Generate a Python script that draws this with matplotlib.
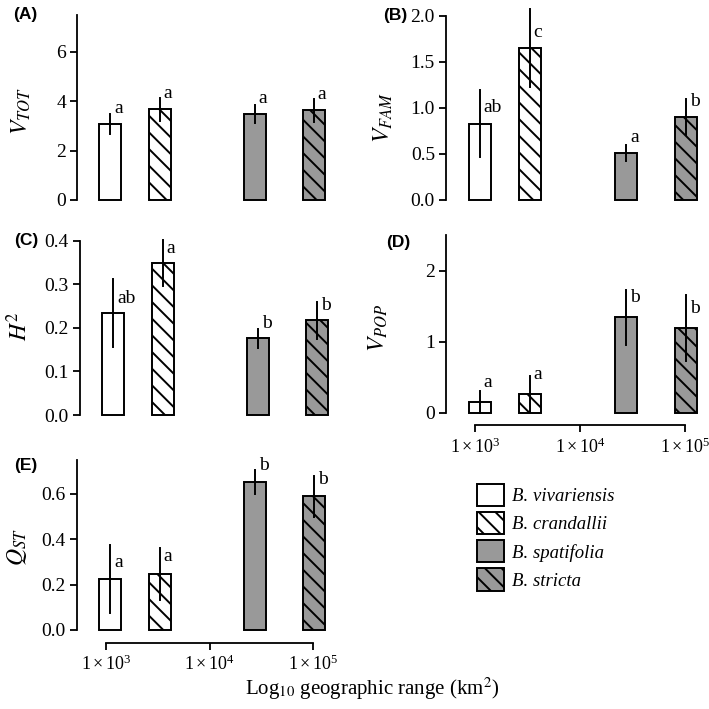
import numpy as np
import matplotlib
matplotlib.use('Agg')
import matplotlib.pyplot as plt
from matplotlib.patches import Patch

plt.rcParams['font.family'] = ['Liberation Serif', 'DejaVu Serif']
plt.rcParams['mathtext.fontset'] = 'stix'
plt.rcParams['hatch.linewidth'] = 1.4

# data
species = ['B. vivariensis', 'B. crandallii', 'B. spatifolia', 'B. stricta']
range_km2 = [1100, 3300, 27500, 102000]

vtot = [3.08, 3.67, 3.49, 3.63]
vtot_se = [0.40, 0.47, 0.37, 0.48]
vtot_letters = ['a', 'a', 'a', 'a']

vfam = [0.83, 1.65, 0.51, 0.90]
vfam_se = [0.36, 0.42, 0.085, 0.20]
vfam_letters = ['ab', 'c', 'a', 'b']

h2 = [0.233, 0.348, 0.176, 0.217]
h2_se = [0.078, 0.053, 0.022, 0.042]
h2_letters = ['ab', 'a', 'b', 'b']

vpop = [0.148, 0.266, 1.34, 1.19]
vpop_se = [0.16, 0.25, 0.39, 0.46]
vpop_letters = ['a', 'a', 'b', 'b']

qst = [0.223, 0.248, 0.652, 0.589]
qst_se = [0.15, 0.115, 0.054, 0.09]
qst_letters = ['a', 'a', 'b', 'b']

xtick_vals = [3, 4, 5]
xtick_labels = [r'$\mathregular{1\times10^3}$', r'$\mathregular{1\times10^4}$', r'$\mathregular{1\times10^5}$']

colors = ['white', 'white', '#999999', '#999999']
hatches = ['', '\\\\', '', '\\\\']

FS = 14
W, H = 709, 709


def ax_at(left_px, zero_px, top_px, width_px):
    return fig.add_axes([left_px / W, (H - zero_px) / H, width_px / W, (zero_px - top_px) / H])


def panel(ax, vals, se, letters, ymax, yticks, ylabel, tag, lab_xy, tag_xy, let_frac, xaxis=False):
    x = np.log10(range_km2)
    for xi, v, s, c, h, l in zip(x, vals, se, colors, hatches, letters):
        ax.bar(xi, v, width=0.21, color=c, hatch=h, edgecolor='black', linewidth=1.4, clip_on=False)
        ax.plot([xi, xi], [max(v - s, 0), v + s], color='black', lw=1.4, clip_on=False)
        ax.text(xi + 0.035, v + let_frac * ymax, l, fontsize=FS, ha='left', va='center')
    ax.set_xlim(2.72, 5.2)
    ax.set_ylim(0, ymax)
    ax.set_yticks(yticks)
    ax.tick_params(axis='y', labelsize=FS, length=5, width=1.3, pad=3)
    ax.spines['left'].set_linewidth(1.3)
    ax.spines['left'].set_bounds(0, ymax)
    ax.spines['top'].set_visible(False)
    ax.spines['right'].set_visible(False)
    if xaxis:
        ax.spines['bottom'].set_position(('outward', 9))
        ax.spines['bottom'].set_bounds(3, 5)
        ax.spines['bottom'].set_linewidth(1.3)
        ax.set_xticks(xtick_vals)
        ax.set_xticklabels(xtick_labels)
        ax.tick_params(axis='x', labelsize=FS - 1, length=5, width=1.3, pad=4)
    else:
        ax.spines['bottom'].set_visible(False)
        ax.set_xticks([])
    ax.set_ylabel(ylabel, fontsize=FS + 3)
    ax.yaxis.label.set_verticalalignment('center')
    ax.yaxis.set_label_coords(*lab_xy)
    ax.text(tag_xy[0], tag_xy[1], tag, transform=ax.transAxes, fontsize=12.5, fontweight='bold',
            family='Liberation Sans', ha='center', va='center')


fig = plt.figure(figsize=(W / 100, H / 100), dpi=100)

axA = ax_at(77, 200, 15, 257)
panel(axA, vtot, vtot_se, vtot_letters, 7.5, [0, 2, 4, 6], r'$V_{TOT}$', '(A)',
      (-0.215, 0.48), (-0.2, 1.0), 0.085)

axB = ax_at(446, 200, 15.7, 260)
panel(axB, vfam, vfam_se, vfam_letters, 2.0, [0, 0.5, 1.0, 1.5, 2.0], r'$V_{FAM}$', '(B)',
      (-0.24, 0.45), (-0.196, 1.0), 0.085)
axB.set_yticklabels(['0.0', '0.5', '1.0', '1.5', '2.0'])

axC = ax_at(80, 415, 240.7, 257)
panel(axC, h2, h2_se, h2_letters, 0.4, [0, 0.1, 0.2, 0.3, 0.4], r'$H^2$', '(C)',
      (-0.235, 0.51), (-0.21, 1.0), 0.085)
axC.set_yticklabels(['0.0', '0.1', '0.2', '0.3', '0.4'])

axD = ax_at(446, 412.7, 235, 260)
panel(axD, vpop, vpop_se, vpop_letters, 2.5, [0, 1, 2], r'$V_{POP}$', '(D)',
      (-0.26, 0.48), (-0.185, 0.955), 0.11, xaxis=True)

axE = ax_at(77, 630, 460, 257)
panel(axE, qst, qst_se, qst_letters, 0.75, [0, 0.2, 0.4, 0.6], r'$Q_{ST}$', '(E)',
      (-0.233, 0.49), (-0.2, 0.97), 0.1, xaxis=True)
axE.set_yticklabels(['0.0', '0.2', '0.4', '0.6'])

fig.text(372 / W, 1 - 689 / H, r'Log$_{10}$ geographic range (km$^2$)', fontsize=15,
         ha='center', va='center')

handles = [Patch(facecolor=c, edgecolor='black', hatch=h, linewidth=1.4) for c, h in zip(colors, hatches)]
fig.legend(handles, species, loc='upper left', bbox_to_anchor=(477 / W, 1 - 484 / H),
           frameon=False, prop={'style': 'italic', 'size': 13.5}, handlelength=1.44,
           handleheight=1.44, labelspacing=0.32, handletextpad=0.45, borderpad=0, borderaxespad=0)

fig.savefig('out.png', dpi=100)
